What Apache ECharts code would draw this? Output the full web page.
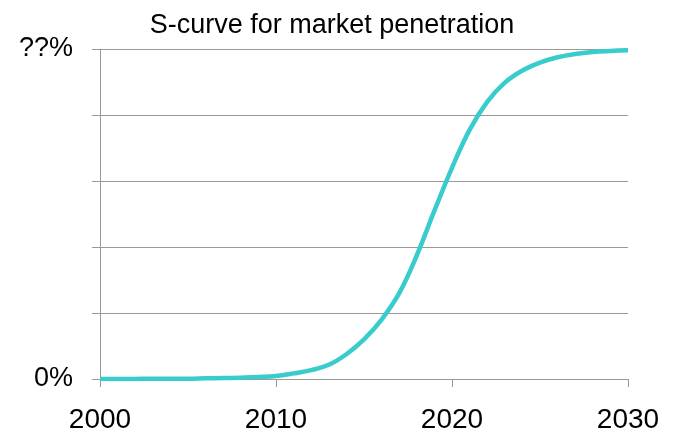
<!DOCTYPE html>
<html>
<head>
<meta charset="utf-8">
<script src="https://cdn.jsdelivr.net/npm/echarts@6/dist/echarts.min.js"></script>
<style>html,body{margin:0;padding:0;background:#fff;}#c{width:677px;height:434px;}</style>
</head>
<body>
<div id="c"></div>
<script>
var years = [2000,2001,2002,2003,2004,2005,2006,2007,2008,2009,2010,2011,2012,2013,2014,2015,2016,2017,2018,2019,2020,2021,2022,2023,2024,2025,2026,2027,2028,2029,2030];
var penetration = [0.0,0.0,0.0,0.1,0.1,0.1,0.2,0.3,0.4,0.6,0.9,1.7,2.7,4.3,7.5,12.0,18.0,26.0,37.5,51.0,64.0,75.5,84.0,89.8,93.5,95.9,97.5,98.5,99.1,99.4,99.6];
var yTickLabels = {0: '0%', 100: '??%'};
var xTicks = [2000, 2010, 2020, 2030];
var titleText = 'S-curve for market penetration';

var data = years.map(function (y, i) { return [y, penetration[i]]; });
var chart = echarts.init(document.getElementById('c'), null, {renderer: 'canvas'});
var font = '"Liberation Sans", Arial, sans-serif';
chart.setOption({
  animation: false,
  title: {
    text: titleText, left: 327, top: 7, textAlign: 'center',
    textStyle: {fontFamily: font, fontSize: 27, fontWeight: 'normal', color: '#000'}
  },
  grid: {left: 100, right: 49, top: 49, bottom: 54},
  xAxis: {
    type: 'value', min: xTicks[0], max: xTicks[xTicks.length - 1], interval: 10,
    axisLine: {lineStyle: {color: '#999', width: 1}},
    axisTick: {show: true, length: 8, lineStyle: {color: '#999'}},
    splitLine: {show: false},
    axisLabel: {fontFamily: font, fontSize: 28, color: '#000', margin: 27, formatter: function (v) { return String(v); }}
  },
  yAxis: {
    type: 'value', min: 0, max: 100, interval: 20,
    axisLine: {show: true, lineStyle: {color: '#999', width: 1}},
    axisTick: {show: true, length: 8, lineStyle: {color: '#999'}},
    splitLine: {show: true, lineStyle: {color: '#999', width: 1}},
    axisLabel: {fontFamily: font, fontSize: 27, color: '#000', margin: 27, formatter: function (v) { return yTickLabels[v] || ''; }}
  },
  series: [{
    type: 'line', data: data, smooth: 0.4, showSymbol: false,
    lineStyle: {color: '#38cccc', width: 4.5}
  }]
});
</script>
</body>
</html>
